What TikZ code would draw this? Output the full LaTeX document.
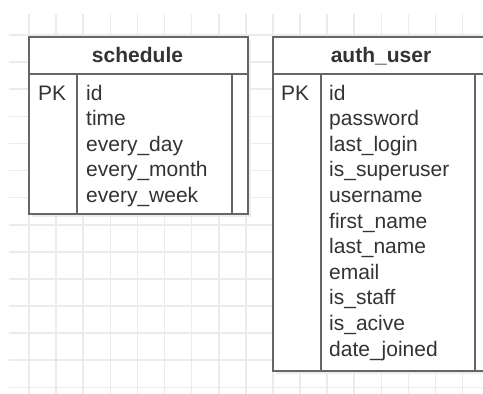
\documentclass[tikz,border=0pt]{standalone}
\usepackage{fontspec}
\setmainfont{Liberation Sans}
\definecolor{bordergray}{HTML}{666666}
\definecolor{textgray}{HTML}{333333}
\definecolor{gridgray}{HTML}{EBEBEB}
\begin{document}
\begin{tikzpicture}[x=1pt,y=-1pt,
  gridline/.style={draw=gridgray, line width=1.6pt},
  border/.style={draw=bordergray, line width=2pt},
  tbl/.style={border, fill=white, rectangle, inner sep=0pt, anchor=north west},
  shadow/.style={fill=black!7, draw=none},
  head/.style={font=\fontsize{21}{25}\selectfont\bfseries, text=textgray, anchor=base, inner sep=0pt},
  field/.style={font=\fontsize{21}{25}\selectfont, text=textgray, anchor=base west, inner sep=0pt}]
\useasboundingbox (0,0) rectangle (483,394);
\fill[white] (0,0) rectangle (483,394);

% background grid
\foreach \k in {0,...,17} \draw[gridline] (29+27.1*\k,14) -- (29+27.1*\k,394);
\foreach \k in {0,...,13} \draw[gridline] (9,35+27.1*\k) -- (483,35+27.1*\k);

% soft shadows under the tables
\fill[shadow] (32,40) rectangle (251,217);
\fill[shadow] (276,40) rectangle (494,374);

% table: schedule
\node[tbl, minimum width=219pt, minimum height=177pt] (schedule) at (28,36) {};
\draw[border] ([yshift=-38pt]schedule.north west) -- ([yshift=-38pt]schedule.north east);
\draw[border] ([xshift=49pt,yshift=-38pt]schedule.north west) -- ([xshift=49pt]schedule.south west);
\draw[border] ([xshift=-17pt,yshift=-38pt]schedule.north east) -- ([xshift=-17pt]schedule.south east);
\node[head] (schedule-title) at (137.5,62) {schedule};
\node[field] (schedule-pk) at (38,100) {PK};
\foreach \f [count=\i from 0] in {id,time,every\_day,every\_month,every\_week}
  \node[field] (schedule-f\i) at (86,100+25.6*\i) {\f};

% table: auth_user
\node[tbl, minimum width=218pt, minimum height=334pt] (authuser) at (272,36) {};
\draw[border] ([yshift=-38pt]authuser.north west) -- ([yshift=-38pt]authuser.north east);
\draw[border] ([xshift=49pt,yshift=-38pt]authuser.north west) -- ([xshift=49pt]authuser.south west);
\draw[border] ([xshift=-17pt,yshift=-38pt]authuser.north east) -- ([xshift=-17pt]authuser.south east);
\node[head] (authuser-title) at (381,62) {auth\_user};
\node[field] (authuser-pk) at (281,100) {PK};
\foreach \f [count=\i from 0] in {id,password,last\_login,is\_superuser,username,first\_name,last\_name,email,is\_staff,is\_acive,date\_joined}
  \node[field] (authuser-f\i) at (329,100+25.6*\i) {\f};
\end{tikzpicture}
\end{document}
